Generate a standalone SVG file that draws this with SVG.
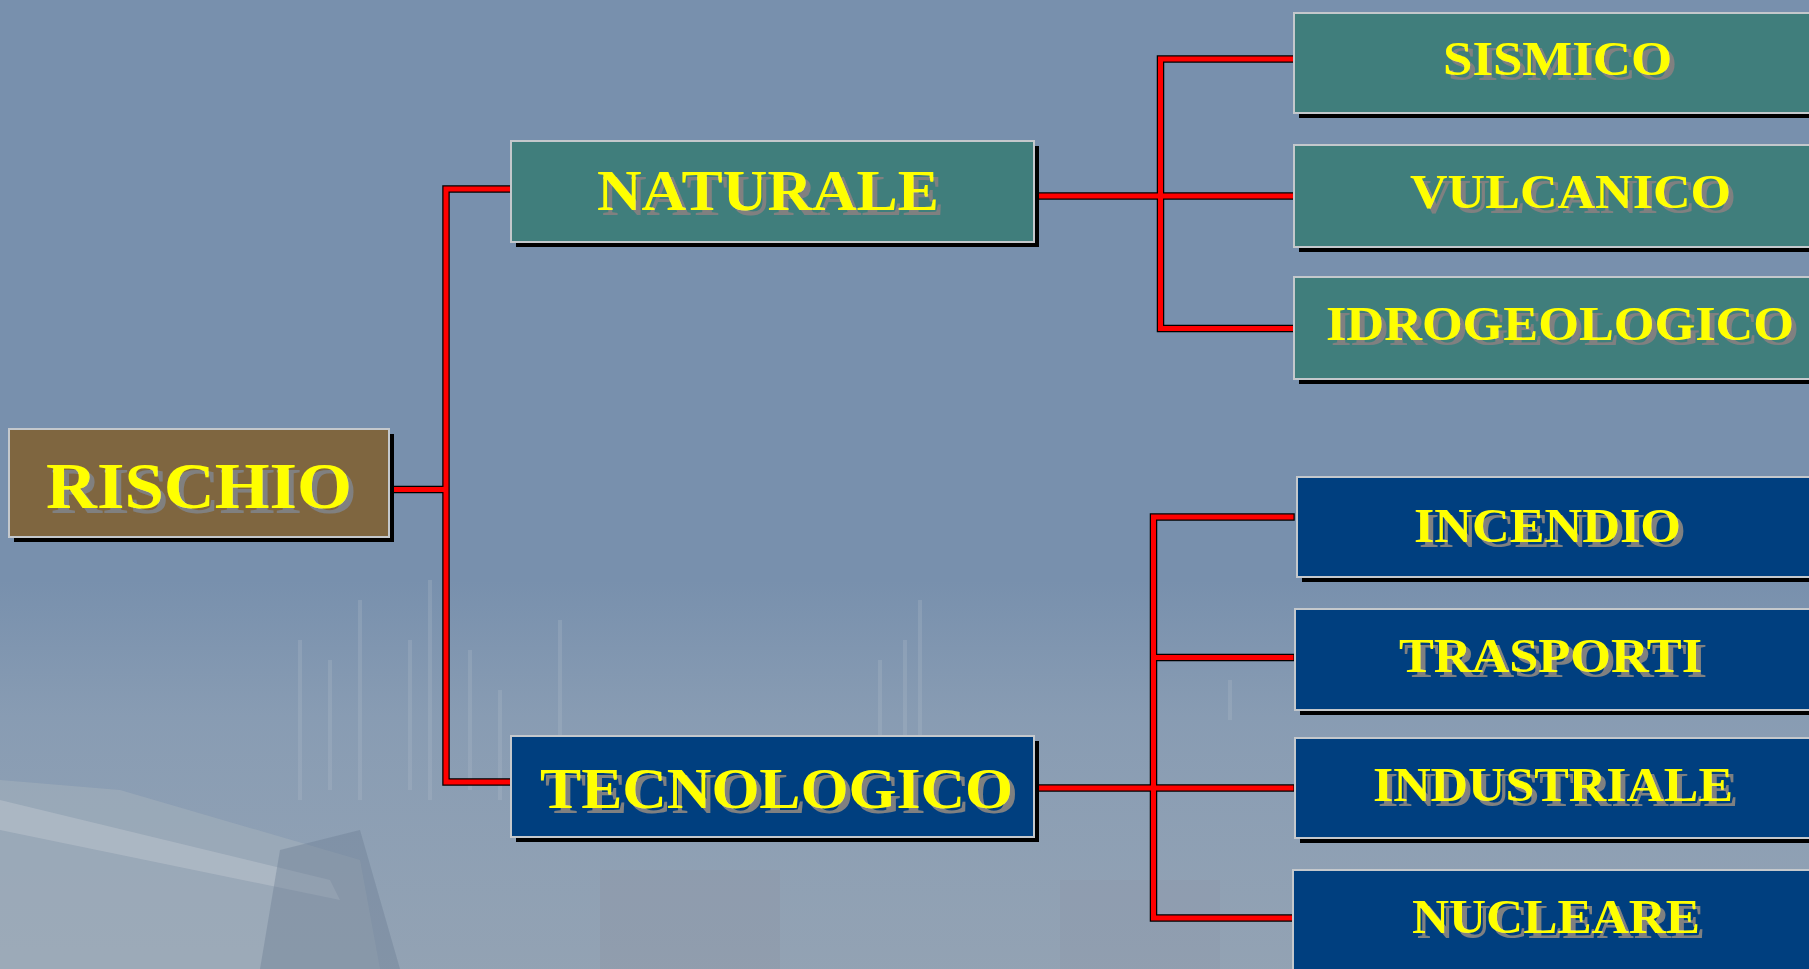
<svg xmlns="http://www.w3.org/2000/svg" width="1809" height="969" viewBox="0 0 1809 969">
<style>
.shadow{fill:#000}
.box{stroke:#c4c8cc;stroke-width:2}
.teal{fill:#407e7c}
.navy{fill:#003f7f}
.brown{fill:#7f6640}
.lbl{font-family:"Liberation Serif","Times New Roman",serif;font-weight:bold;fill:#ffff00;filter:url(#ts)}
.big{font-size:66px}
.mid{font-size:57px}
.sm{font-size:48px}
.wireB{fill:none;stroke:#000;stroke-width:7.5;stroke-linecap:square}
.wireR{fill:none;stroke:#ff0000;stroke-width:5;stroke-linecap:square}
.bgl{fill:none;stroke:#b4c0cc;stroke-width:4;opacity:.25}
</style>
<defs>
<filter id="ts" x="-5%" y="-20%" width="115%" height="150%">
<feOffset in="SourceAlpha" dx="5" dy="5" result="o"/>
<feFlood flood-color="#808080"/>
<feComposite in2="o" operator="in" result="s"/>
<feMerge><feMergeNode in="s"/><feMergeNode in="SourceGraphic"/></feMerge>
</filter>
<linearGradient id="haze" x1="0" y1="0" x2="0" y2="1">
<stop offset="0" stop-color="#a6b2be" stop-opacity="0"/>
<stop offset="0.35" stop-color="#a6b2be" stop-opacity="0.35"/>
<stop offset="1" stop-color="#9eaab6" stop-opacity="0.7"/>
</linearGradient>
</defs>

<g id="background">
<rect x="0" y="0" width="1809" height="969" fill="#7890ad"/>
<rect x="0" y="580" width="1809" height="389" fill="url(#haze)"/>
<polygon points="0,780 120,790 360,860 380,969 0,969" fill="#a4b0bc" opacity="0.55"/>
<polygon points="0,800 330,880 340,900 0,830" fill="#c0c8d0" opacity="0.45"/>
<polygon points="280,850 360,830 400,969 260,969" fill="#6c7e94" opacity="0.4"/>
<rect x="600" y="870" width="180" height="99" fill="#8a8e9c" opacity="0.25"/>
<rect x="1060" y="880" width="160" height="89" fill="#8a92a4" opacity="0.25"/>
<path class="bgl" d="M300 800V640M330 790V660M360 800V600M410 790V640M430 800V580M470 790V650M500 800V690M560 800V620M880 790V660M905 790V640M920 790V600M1230 720V680"/>
</g>

<g id="connectors">
<path class="wireB" d="M394 489.5H446M446 189V782M446 189H509M446 782H509M1036 196H1291M1160.5 59V328.5M1160.5 59H1291M1160.5 328.5H1291M1036 788H1291M1153.5 517V918M1153.5 517H1291M1153.5 657.5H1291M1153.5 918H1291"/>
<path class="wireR" d="M394 489.5H446M446 189V782M446 189H509M446 782H509M1036 196H1291M1160.5 59V328.5M1160.5 59H1291M1160.5 328.5H1291M1036 788H1291M1153.5 517V918M1153.5 517H1291M1153.5 657.5H1291M1153.5 918H1291"/>
</g>

<g id="rischio">
<rect class="shadow" x="14" y="434" width="380" height="108"/>
<rect class="box brown" x="9" y="429" width="380" height="108"/>
<text class="lbl big" x="46" y="508" textLength="306" lengthAdjust="spacingAndGlyphs">RISCHIO</text>
</g>

<g id="naturale">
<rect class="shadow" x="516" y="146" width="523" height="101"/>
<rect class="box teal" x="511" y="141" width="523" height="101"/>
<text class="lbl mid" x="597" y="210" textLength="342" lengthAdjust="spacingAndGlyphs">NATURALE</text>
</g>

<g id="tecnologico">
<rect class="shadow" x="516" y="741" width="523" height="101"/>
<rect class="box navy" x="511" y="736" width="523" height="101"/>
<text class="lbl mid" x="540" y="808" textLength="473" lengthAdjust="spacingAndGlyphs">TECNOLOGICO</text>
</g>

<g id="sismico">
<rect class="shadow" x="1299" y="18" width="540" height="100"/>
<rect class="box teal" x="1294" y="13" width="540" height="100"/>
<text class="lbl sm" x="1443" y="75" textLength="229" lengthAdjust="spacingAndGlyphs">SISMICO</text>
</g>

<g id="vulcanico">
<rect class="shadow" x="1299" y="150" width="540" height="102"/>
<rect class="box teal" x="1294" y="145" width="540" height="102"/>
<text class="lbl sm" x="1410" y="208" textLength="321" lengthAdjust="spacingAndGlyphs">VULCANICO</text>
</g>

<g id="idrogeologico">
<rect class="shadow" x="1299" y="282" width="540" height="102"/>
<rect class="box teal" x="1294" y="277" width="540" height="102"/>
<text class="lbl sm" x="1326" y="340" textLength="468" lengthAdjust="spacingAndGlyphs">IDROGEOLOGICO</text>
</g>

<g id="incendio">
<rect class="shadow" x="1302" y="482" width="540" height="100"/>
<rect class="box navy" x="1297" y="477" width="540" height="100"/>
<text class="lbl sm" x="1414" y="542" textLength="267" lengthAdjust="spacingAndGlyphs">INCENDIO</text>
</g>

<g id="trasporti">
<rect class="shadow" x="1300" y="614" width="540" height="101"/>
<rect class="box navy" x="1295" y="609" width="540" height="101"/>
<text class="lbl sm" x="1399" y="672" textLength="303" lengthAdjust="spacingAndGlyphs">TRASPORTI</text>
</g>

<g id="industriale">
<rect class="shadow" x="1300" y="743" width="540" height="100"/>
<rect class="box navy" x="1295" y="738" width="540" height="100"/>
<text class="lbl sm" x="1373" y="801" textLength="360" lengthAdjust="spacingAndGlyphs">INDUSTRIALE</text>
</g>

<g id="nucleare">
<rect class="shadow" x="1298" y="875" width="540" height="110"/>
<rect class="box navy" x="1293" y="870" width="540" height="110"/>
<text class="lbl sm" x="1412" y="933" textLength="288" lengthAdjust="spacingAndGlyphs">NUCLEARE</text>
</g>
</svg>
